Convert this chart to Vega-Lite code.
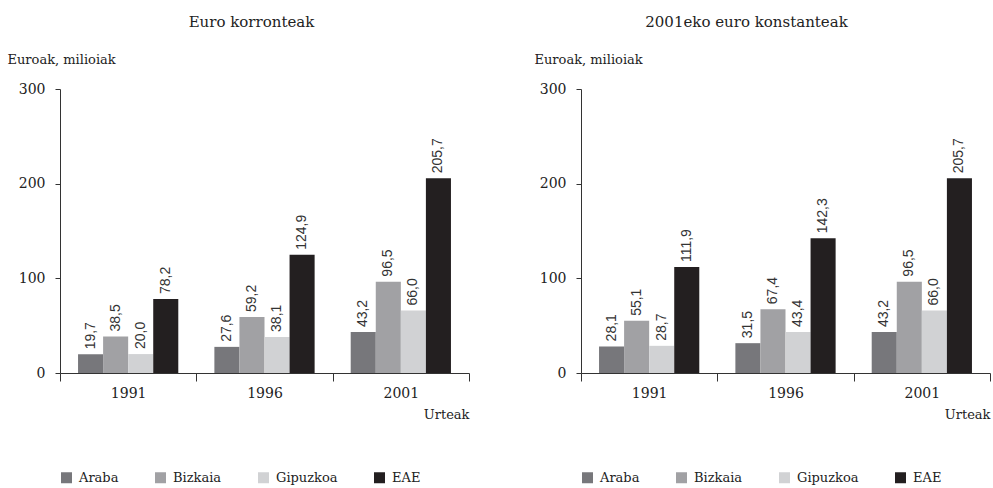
{
  "$schema": "https://vega.github.io/schema/vega-lite/v6.json",
  "padding": {"left": 7, "top": 15, "right": 0, "bottom": 0},
  "background": "white",
  "datasets": {
    "korronteak": [
      {"urtea": "1991", "lurraldea": "Araba", "balioa": 19.7, "etiketa": "19,7"},
      {"urtea": "1991", "lurraldea": "Bizkaia", "balioa": 38.5, "etiketa": "38,5"},
      {"urtea": "1991", "lurraldea": "Gipuzkoa", "balioa": 20.0, "etiketa": "20,0"},
      {"urtea": "1991", "lurraldea": "EAE", "balioa": 78.2, "etiketa": "78,2"},
      {"urtea": "1996", "lurraldea": "Araba", "balioa": 27.6, "etiketa": "27,6"},
      {"urtea": "1996", "lurraldea": "Bizkaia", "balioa": 59.2, "etiketa": "59,2"},
      {"urtea": "1996", "lurraldea": "Gipuzkoa", "balioa": 38.1, "etiketa": "38,1"},
      {"urtea": "1996", "lurraldea": "EAE", "balioa": 124.9, "etiketa": "124,9"},
      {"urtea": "2001", "lurraldea": "Araba", "balioa": 43.2, "etiketa": "43,2"},
      {"urtea": "2001", "lurraldea": "Bizkaia", "balioa": 96.5, "etiketa": "96,5"},
      {"urtea": "2001", "lurraldea": "Gipuzkoa", "balioa": 66.0, "etiketa": "66,0"},
      {"urtea": "2001", "lurraldea": "EAE", "balioa": 205.7, "etiketa": "205,7"}
    ],
    "konstanteak": [
      {"urtea": "1991", "lurraldea": "Araba", "balioa": 28.1, "etiketa": "28,1"},
      {"urtea": "1991", "lurraldea": "Bizkaia", "balioa": 55.1, "etiketa": "55,1"},
      {"urtea": "1991", "lurraldea": "Gipuzkoa", "balioa": 28.7, "etiketa": "28,7"},
      {"urtea": "1991", "lurraldea": "EAE", "balioa": 111.9, "etiketa": "111,9"},
      {"urtea": "1996", "lurraldea": "Araba", "balioa": 31.5, "etiketa": "31,5"},
      {"urtea": "1996", "lurraldea": "Bizkaia", "balioa": 67.4, "etiketa": "67,4"},
      {"urtea": "1996", "lurraldea": "Gipuzkoa", "balioa": 43.4, "etiketa": "43,4"},
      {"urtea": "1996", "lurraldea": "EAE", "balioa": 142.3, "etiketa": "142,3"},
      {"urtea": "2001", "lurraldea": "Araba", "balioa": 43.2, "etiketa": "43,2"},
      {"urtea": "2001", "lurraldea": "Bizkaia", "balioa": 96.5, "etiketa": "96,5"},
      {"urtea": "2001", "lurraldea": "Gipuzkoa", "balioa": 66.0, "etiketa": "66,0"},
      {"urtea": "2001", "lurraldea": "EAE", "balioa": 205.7, "etiketa": "205,7"}
    ]
  },
  "config": {
    "view": {"stroke": null},
    "font": "DejaVu Serif",
    "title": {"font": "DejaVu Serif", "fontSize": 15, "fontWeight": "normal", "color": "#222222", "anchor": "middle", "offset": 23},
    "axis": {
      "labelFont": "DejaVu Serif", "labelFontSize": 14, "labelColor": "#222222",
      "titleFont": "DejaVu Serif", "titleFontSize": 13, "titleFontWeight": "normal", "titleColor": "#222222",
      "domainColor": "#333333", "tickColor": "#333333", "grid": false
    },
    "legend": {
      "orient": "none", "legendX": 0, "legendY": 382, "direction": "horizontal",
      "symbolType": "square", "symbolSize": 121, "symbolStrokeWidth": 0,
      "labelFont": "DejaVu Serif", "labelFontSize": 13, "labelColor": "#222222",
      "columnPadding": 35, "labelOffset": 6, "padding": 0
    }
  },
  "spacing": 64,
  "resolve": {"scale": {"color": "independent"}},
  "hconcat": [
    {
      "width": 409, "height": 284,
      "title": {"text": "Euro korronteak", "dx": -13},
      "data": {"name": "korronteak"},
      "encoding": {
        "x": {"field": "urtea", "type": "nominal", "scale": {"paddingInner": 0, "paddingOuter": 0},
          "axis": {"labelAngle": 0, "tickBand": "extent", "tickSize": 8, "labelPadding": 5,
            "title": "Urteak", "titleAlign": "right", "titleX": 409, "titleY": 45, "titleBaseline": "alphabetic", "titleAnchor": null}},
        "xOffset": {"field": "lurraldea", "type": "nominal", "sort": ["Araba", "Bizkaia", "Gipuzkoa", "EAE"], "scale": {"paddingInner": 0, "paddingOuter": 0.72}},
        "y": {"field": "balioa", "type": "quantitative", "scale": {"domain": [0, 300]},
          "axis": {"values": [0, 100, 200, 300], "tickSize": 5, "labelPadding": 10,
            "title": "Euroak, milioiak", "titleAngle": 0, "titleAlign": "left", "titleX": -53, "titleY": -26, "titleBaseline": "alphabetic"}}
      },
      "layer": [
        {"mark": {"type": "bar"},
          "encoding": {"color": {"field": "lurraldea", "type": "nominal", "title": null,
            "scale": {"domain": ["Araba", "Bizkaia", "Gipuzkoa", "EAE"], "range": ["#77777b", "#a1a1a4", "#d1d2d4", "#231f20"]}}}},
        {"mark": {"type": "text", "angle": 270, "align": "left", "baseline": "middle", "dx": 5, "font": "Liberation Sans", "fontSize": 14, "color": "#333333"},
          "encoding": {"text": {"field": "etiketa", "type": "nominal"}}}
      ]
    },
    {
      "width": 409, "height": 284,
      "title": {"text": "2001eko euro konstanteak", "dx": -39},
      "data": {"name": "konstanteak"},
      "encoding": {
        "x": {"field": "urtea", "type": "nominal", "scale": {"paddingInner": 0, "paddingOuter": 0},
          "axis": {"labelAngle": 0, "tickBand": "extent", "tickSize": 8, "labelPadding": 5,
            "title": "Urteak", "titleAlign": "right", "titleX": 409, "titleY": 45, "titleBaseline": "alphabetic", "titleAnchor": null}},
        "xOffset": {"field": "lurraldea", "type": "nominal", "sort": ["Araba", "Bizkaia", "Gipuzkoa", "EAE"], "scale": {"paddingInner": 0, "paddingOuter": 0.72}},
        "y": {"field": "balioa", "type": "quantitative", "scale": {"domain": [0, 300]},
          "axis": {"values": [0, 100, 200, 300], "tickSize": 5, "labelPadding": 10,
            "title": "Euroak, milioiak", "titleAngle": 0, "titleAlign": "left", "titleX": -47, "titleY": -26, "titleBaseline": "alphabetic"}}
      },
      "layer": [
        {"mark": {"type": "bar"},
          "encoding": {"color": {"field": "lurraldea", "type": "nominal", "title": null,
            "scale": {"domain": ["Araba", "Bizkaia", "Gipuzkoa", "EAE"], "range": ["#77777b", "#a1a1a4", "#d1d2d4", "#231f20"]}}}},
        {"mark": {"type": "text", "angle": 270, "align": "left", "baseline": "middle", "dx": 5, "font": "Liberation Sans", "fontSize": 14, "color": "#333333"},
          "encoding": {"text": {"field": "etiketa", "type": "nominal"}}}
      ]
    }
  ]
}
